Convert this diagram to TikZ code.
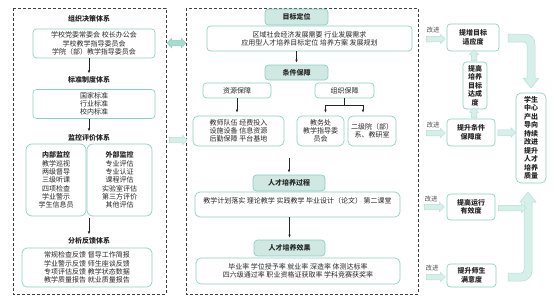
\documentclass[tikz,border=0pt]{standalone}
\usepackage{fontspec}
\setmainfont{Noto Sans CJK SC}
\usepackage{tikz}
\usetikzlibrary{arrows.meta, calc, shapes.arrows}
\definecolor{tealline}{HTML}{8CCFC3}
\definecolor{tealfill}{HTML}{CFE9E2}
\definecolor{arrowline}{HTML}{B3DFD5}
\definecolor{arrowfill}{HTML}{D7EFE9}
\definecolor{syncfill}{HTML}{A9DACF}
\definecolor{ink}{HTML}{262626}

\begin{document}
\begin{tikzpicture}[x=1pt, y=-1pt,
    box/.style={draw=tealline, line width=0.7pt, rounded corners=3.5pt, align=center, inner sep=0pt, text=ink, font=\fontsize{7}{8.3}\selectfont},
    headbox/.style={box, fill=tealfill, font=\fontsize{7}{8.3}\selectfont\bfseries},
    rbox/.style={box, font=\fontsize{7}{8.5}\selectfont\bfseries},
    heading/.style={inner sep=1pt, text=ink, font=\fontsize{7}{8.3}\selectfont\bfseries},
    note/.style={inner sep=0pt, text=ink!80, font=\fontsize{6.5}{8}\selectfont},
    panel/.style={draw=black!75, line width=0.7pt, dash pattern=on 3pt off 2pt},
    link/.style={ink, line width=0.6pt, -{Latex[length=3pt, width=2.6pt]}, shorten >=2pt},
    fatarrow/.style={single arrow, draw=arrowline, fill=arrowfill, line width=0.5pt, minimum height=#1, minimum width=9pt, single arrow head extend=2pt, single arrow head indent=0pt, inner sep=2.5pt},
    syncarrow/.style={double arrow, draw=tealline, fill=syncfill, line width=0.5pt, minimum height=#1, minimum width=9pt, double arrow head extend=2pt, inner sep=2.5pt},
    fatband/.style={draw=arrowline, fill=arrowfill, line width=0.5pt}]
    \useasboundingbox (0,0) rectangle (554,306);

    % left panel
    \draw[panel] (13,8) rectangle (166,294);
    \node[heading] (t_org) at (89,19) {组织决策体系};
    \node[box, minimum width=122pt, minimum height=29pt] (b_org) at (94,43.5) {学校党委常委会 校长办公会\\学校教学指导委员会\\学院（部）教学指导委员会};
    \node[heading] (t_std) at (89,80) {标准制度体系};
    \node[box, minimum width=122pt, minimum height=29pt] (b_std) at (94,104) {国家标准\\行业标准\\校内标准};
    \node[heading] (t_mon) at (89,138) {监控评价体系};
    \node[box, rounded corners=6pt, minimum width=60pt, minimum height=72pt] (b_in) at (56,180) {\textbf{内部监控}\\教学巡视\\两级督导\\三级听课\\四项检查\\学业警示\\学生信息员};
    \node[box, rounded corners=6pt, minimum width=65pt, minimum height=72pt] (b_out) at (119.5,180) {\textbf{外部监控}\\专业评估\\专业认证\\课程评估\\实验室评估\\第三方评价\\其他评估};
    \node[heading] (t_ana) at (89,241) {分析反馈体系};
    \node[box, rounded corners=5pt, minimum width=130pt, minimum height=39pt] (b_ana) at (87,267.5) {常规检查反馈 督导工作简报\\学业警示反馈 师生座谈反馈\\专项评估反馈 教学状态数据\\教学质量报告 就业质量报告};
    \draw[link] (t_std.north |- b_org.south) -- (t_std.north);
    \draw[link] (t_mon.north |- b_std.south) -- (t_mon.north);
    \draw[link] ([yshift=-2pt]t_ana.north |- b_in.south) -- (t_ana.north);

    % middle panel
    \draw[panel] (186,8) rectangle (418,294);
    \node[headbox, minimum width=63pt, minimum height=16pt] (h_goal) at (296.5,17) {目标定位};
    \node[box, minimum width=205pt, minimum height=25pt] (b_goal) at (309.5,38.5) {区域社会经济发展需要 行业发展需求\\应用型人才培养目标定位 培养方案 发展规划};
    \node[headbox, minimum width=63pt, minimum height=15pt] (h_cond) at (296.5,72.5) {条件保障};
    \node[box, minimum width=68pt, minimum height=15pt] (b_res) at (237,90.5) {资源保障};
    \node[box, minimum width=59pt, minimum height=15pt] (b_orgs) at (344.5,90.5) {组织保障};
    \node[box, rounded corners=5pt, minimum width=91pt, minimum height=30pt] (b_resl) at (238.5,131) {教师队伍 经费投入\\设施设备 信息资源\\后勤保障 平台基地};
    \node[box, rounded corners=5pt, minimum width=47pt, minimum height=30pt] (b_off) at (320.5,131) {教务处\\教学指导委\\员会};
    \node[box, rounded corners=5pt, minimum width=48pt, minimum height=30pt] (b_dept) at (372,131) {二级院（部）\\系、教研室};
    \node[headbox, minimum width=72pt, minimum height=16pt] (h_proc) at (289,183) {人才培养过程};
    \node[box, rounded corners=5pt, minimum width=205pt, minimum height=25pt] (b_proc) at (297.5,204.5) {教学计划落实 理论教学 实践教学 毕业设计（论文） 第二课堂\\\mbox{}};
    \node[headbox, minimum width=71pt, minimum height=16pt] (h_eff) at (289.5,248) {人才培养效果};
    \node[box, rounded corners=5pt, minimum width=204pt, minimum height=26pt] (b_eff) at (298,271) {毕业率 学位授予率 就业率 深造率 体测达标率\\四六级通过率 职业资格证获取率 学科竞赛获奖率};
    \draw[link] (h_cond.north |- b_goal.south) -- (h_cond.north);
    \draw[link, shorten >=3pt] (b_res.south) -- (b_res.south |- b_resl.north);
    \draw[ink, line width=0.6pt] (b_orgs.south) -- ++(0,7) coordinate (split);
    \draw[link, shorten >=3pt] (split) -| ([xshift=5pt]b_off.north);
    \draw[link, shorten >=3pt] (split) -| ([xshift=-9pt]b_dept.north);
    \draw[link] ([yshift=17pt]h_proc.north) -- (h_proc.north);
    \draw[link] (h_eff.north |- b_proc.south) -- (h_eff.north);

    % between panels
    \node[syncarrow=19pt] (sync) at (176.5,43) {};
    \node[fatarrow=18pt] (feed) at (177,140) {};

    % right column
    \draw[fatband] (508,34) [rounded corners=10pt] -- (535,34) -- (535,60) [sharp corners] -- (535,78) -- (539,78) -- (531,88) -- (523,78) -- (527,78) [rounded corners=3pt] -- (527,42) -- (518,42) [sharp corners] -- (508,42) -- cycle;
    \draw[fatband] (508,281) [rounded corners=10pt] -- (532,281) -- (532,240) [sharp corners] -- (532,202) -- (536,202) -- (528,192) -- (520,202) -- (524,202) [rounded corners=3pt] -- (524,273) -- (516,273) [sharp corners] -- (508,273) -- cycle;
    \node[note] (k1) at (433,30) {改进};
    \node[note] (k2) at (433,125) {改进};
    \node[note] (k3) at (431,199) {改进};
    \node[note] (k4) at (432,268) {改进};
    \node[fatarrow=19pt] (a1) at (434.5,39) {};
    \node[fatarrow=19pt] (a2) at (434.5,133) {};
    \node[fatarrow=20pt] (a3) at (433,207) {};
    \node[fatarrow=19pt] (a4) at (434.5,277) {};
    \node[rbox, minimum width=52pt, minimum height=27pt] (r_goal) at (473,37.5) {提增目标\\适应度};
    \node[rbox, minimum width=24pt, minimum height=47pt] (r_reach) at (475,85.5) {提高\\培养\\目标\\达成\\度};
    \node[rbox, minimum width=48pt, minimum height=27pt] (r_cond) at (471,132.5) {提升条件\\保障度};
    \node[rbox, minimum width=48pt, minimum height=26pt] (r_run) at (471,207) {提高运行\\有效度};
    \node[rbox, minimum width=49pt, minimum height=23pt] (r_sat) at (471.5,275.5) {提升师生\\满意度};
    \node[rbox, rounded corners=5pt, minimum width=30pt, minimum height=90pt] (r_main) at (531,138) {学生\\中心\\产出\\导向\\持续\\改进\\提升\\人才\\培养\\质量};
    \node[fatarrow=11pt, rotate=90] (up1) at ($(r_goal.south)!0.5!(r_goal.south |- r_reach.north)+(1,0)$) {};
    \node[fatarrow=10pt, rotate=90] (up2) at ($(r_reach.south)!0.5!(r_reach.south |- r_cond.north)+(-1,0)$) {};
    \node[fatarrow=18pt] (m1) at ($(r_cond.east)!0.5!(r_cond.east -| r_main.west)$) {};
    \node[fatarrow=28pt] (m2) at (511,208) {};
\end{tikzpicture}
\end{document}
